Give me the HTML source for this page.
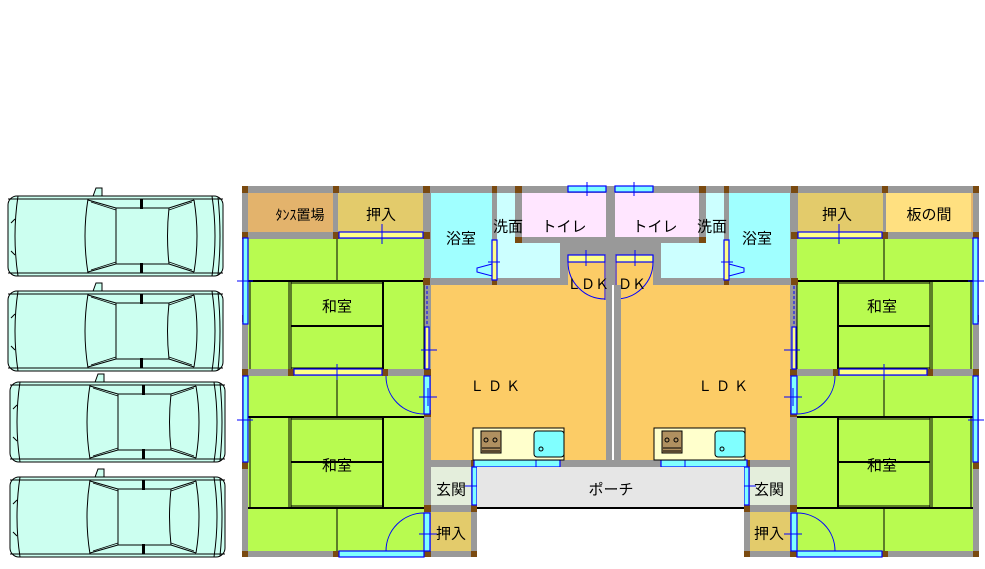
<!DOCTYPE html>
<html><head><meta charset="utf-8"><style>
html,body{margin:0;padding:0;background:#fff;}
svg{display:block;}
text{font-family:"Liberation Sans","Noto Sans CJK JP",sans-serif;font-size:15px;fill:#000;text-anchor:middle;dominant-baseline:central;}
</style></head><body>
<svg width="985" height="569" viewBox="0 0 985 569" xmlns="http://www.w3.org/2000/svg">
<defs>
<g id="car">
  <polygon points="86,4 90,-7 96,-7 96,4" fill="#ccfff0" stroke="#000" stroke-width="1"/>
  <rect x="2" y="1" width="215" height="80" rx="9" fill="#ccfff0" stroke="#000" stroke-width="1"/>
  <path d="M12,1 Q6,41 12,81 M206,1 Q212,41 206,81 M212,2 Q216,41 212,80" fill="none" stroke="#000"/>
  <path d="M2,4 H217 M2,78 H217" stroke="#000" fill="none"/>
  <path d="M82,4 Q76,41 82,78" fill="none" stroke="#000"/>
  <path d="M82,5 L110,13 L110,69 L82,77 M110,13 H163 L188,5 M110,69 H163 L188,77 M163,13 Q160,41 163,69 M188,5 Q194,41 188,77" fill="none" stroke="#000"/>
  <path d="M85,7 L110,15 M85,75 L110,67 M163,15 L186,7 M163,67 L186,75" fill="none" stroke="#000" stroke-width="0.7"/>
  <rect x="134" y="4" width="3" height="10" fill="#000"/>
  <rect x="134" y="68" width="3" height="10" fill="#000"/>
  <path d="M5,28 L9,24 M5,56 L9,60" stroke="#000"/>
</g>
<g id="half">
  <rect x="242" y="186" width="372" height="281" fill="#999"/>
  <rect x="242" y="467" width="235" height="90" fill="#999"/>
  <rect x="248" y="193" width="85" height="39" fill="#e3b36c"/>
  <rect x="338" y="193" width="85" height="39" fill="#e3cb6b"/>
  <rect x="248" y="239" width="176" height="130" fill="#b8fb50"/>
  <rect x="248" y="376" width="176" height="175" fill="#b8fb50"/>
  <rect x="431" y="193" width="61" height="85" fill="#a0ffff"/>
  <rect x="497" y="193" width="18" height="85" fill="#ccffff"/>
  <rect x="497" y="243" width="63" height="35" fill="#ccffff"/>
  <rect x="522" y="193" width="84" height="44" fill="#ffe6ff"/>
  <rect x="568" y="255" width="38" height="45" fill="#fccc66"/>
  <rect x="431" y="285" width="175" height="175" fill="#fccc66"/>
  <rect x="431" y="467" width="40" height="38" fill="#e4eedc"/>
  <rect x="431" y="512" width="40" height="39" fill="#e3cb6b"/>
  <g stroke="#000" fill="none">
    <path d="M337,239 V281" stroke-width="1"/>
    <path d="M248,281 H424" stroke-width="2"/>
    <path d="M250,281 V369 M289,281 V369 M291,281 V369 M424,281 V369"/>
    <path d="M383,281 V369" stroke-width="2"/>
    <path d="M291,283 H383 M291,368 H383"/>
    <path d="M291,326 H383" stroke-width="2"/>
    <path d="M337,376 V417 M337,508 V551"/>
    <path d="M248,417 H424 M248,508 H424" stroke-width="2"/>
    <path d="M250,417 V508 M289,417 V508 M291,417 V508"/>
    <path d="M383,417 V508" stroke-width="2"/>
    <path d="M291,419 H383 M291,506 H383"/>
    <path d="M291,462 H383" stroke-width="2"/>
  </g>
  <g fill="#7a4a10">
    <rect x="242" y="186" width="6" height="7"/><rect x="333" y="186" width="6" height="7"/><rect x="423" y="186" width="7" height="7"/>
    <rect x="242" y="232" width="6" height="7"/><rect x="333" y="232" width="6" height="7"/><rect x="423" y="232" width="7" height="7"/>
    <rect x="492" y="186" width="5" height="7"/><rect x="515" y="186" width="7" height="7"/><rect x="515" y="237" width="7" height="6"/>
    <rect x="423" y="278" width="7" height="7"/><rect x="492" y="278" width="5" height="7"/>
    <rect x="242" y="315" width="6" height="7"/><rect x="242" y="369" width="6" height="7"/><rect x="288" y="369" width="6" height="7"/><rect x="382" y="369" width="6" height="7"/><rect x="424" y="369" width="7" height="7"/>
    <rect x="242" y="462" width="6" height="7"/><rect x="424" y="410" width="7" height="7"/><rect x="471" y="460" width="6" height="7"/>
    <rect x="424" y="505" width="7" height="7"/><rect x="471" y="505" width="6" height="7"/>
    <rect x="242" y="551" width="6" height="6"/><rect x="333" y="551" width="6" height="6"/><rect x="424" y="551" width="7" height="6"/><rect x="471" y="551" width="6" height="6"/>
  </g>
  <g stroke="#00f" stroke-width="1.2">
    <rect x="243" y="238" width="5" height="86" fill="#80ffff"/>
    <rect x="243" y="376" width="5" height="86" fill="#80ffff"/>
    <rect x="339" y="232" width="84" height="6" fill="#ffff88"/>
    <rect x="294" y="369" width="88" height="6" fill="#ffff88"/>
    <rect x="339" y="551" width="85" height="6" fill="#80ffff"/>
    <rect x="568" y="186" width="38" height="6" fill="#80ffff"/>
    <rect x="492" y="240" width="5" height="40" fill="#ffff88"/>
    <rect x="568" y="255" width="37" height="7" fill="#ffff88"/>
    <rect x="474" y="460" width="86" height="7" fill="#80ffff"/>
    <rect x="472" y="467" width="5" height="38" fill="#80ffff"/>
    <rect x="424" y="376" width="6" height="38" fill="#80ffff"/>
    <rect x="424" y="513" width="6" height="38" fill="#80ffff"/>
    <rect x="425" y="327" width="4" height="42" fill="#ffff88"/>
  </g>
  <path d="M427,286 V326" stroke="#00f" stroke-dasharray="3,2"/>
  <g stroke="#00f" fill="none" stroke-width="1">
    <path d="M386,376 A38,38 0 0 0 424,414"/>
    <path d="M386,551 A38,38 0 0 1 424,513"/>
    <path d="M477,505 A37,38 0 0 0 514,467"/>
    <path d="M568,262 A37,37 0 0 0 605,299"/>
    <path d="M605,262 V300"/>
    <polygon points="492,264 477,268 477,272 492,276" />
    <path d="M419,397 H437 M428,388 V406 M419,534 H437 M465,486 H483 M587,182 V196 M382,224 V244 M337,364 V380 M421,350 H437 M237,281 H253 M237,420 H253 M488,262 H500 M586,250 V266 M536,455 V472"/>
  </g>
  <rect x="477" y="467" width="137" height="40" fill="#e6e6e6"/>
  <rect x="477" y="507" width="137" height="2" fill="#000"/>
</g>
</defs>

<use href="#car" x="6" y="195"/>
<use href="#car" x="6" y="290"/>
<use href="#car" x="8" y="381"/>
<use href="#car" x="8" y="476"/>

<use href="#half"/>
<use href="#half" transform="matrix(-1 0 0 1 1221 0)"/>
<rect x="606" y="285" width="15" height="175" fill="#999"/>
<rect x="612" y="285" width="2" height="175" fill="#fff"/>
<rect x="886" y="193" width="85" height="39" fill="#ffe080"/>

<g>
  <rect x="473" y="428" width="91" height="32" fill="#ffffcc" stroke="#000"/>
  <rect x="481" y="431" width="20" height="22" fill="#b09060" stroke="#000"/>
  <path d="M482,448 H500 M482,451 H500" stroke="#000"/>
  <circle cx="486" cy="440" r="2" fill="none" stroke="#000"/><circle cx="495" cy="440" r="2" fill="none" stroke="#000"/>
  <rect x="534" y="431" width="30" height="26" rx="3" fill="#80ffff" stroke="#000"/>
  <circle cx="541" cy="449" r="2" fill="none" stroke="#000"/>
</g>
<g transform="translate(181,0)">
  <rect x="473" y="428" width="91" height="32" fill="#ffffcc" stroke="#000"/>
  <rect x="481" y="431" width="20" height="22" fill="#b09060" stroke="#000"/>
  <path d="M482,448 H500 M482,451 H500" stroke="#000"/>
  <circle cx="486" cy="440" r="2" fill="none" stroke="#000"/><circle cx="495" cy="440" r="2" fill="none" stroke="#000"/>
  <rect x="534" y="431" width="30" height="26" rx="3" fill="#80ffff" stroke="#000"/>
  <circle cx="541" cy="449" r="2" fill="none" stroke="#000"/>
</g>

<text x="300" y="215" style="font-size:14px">ﾀﾝｽ置場</text>
<text x="381" y="215">押入</text>
<text x="461" y="239">浴室</text>
<text x="508" y="227">洗面</text>
<text x="564" y="227">トイレ</text>
<text x="588" y="284" style="font-size:14px">ＬＤＫ</text>
<text x="632" y="284" style="font-size:14px">ＤＫ</text>
<text x="337" y="307">和室</text>
<text x="337" y="466">和室</text>
<text x="497" y="386" style="font-size:14px;letter-spacing:4px">ＬＤＫ</text>
<text x="451" y="490">玄関</text>
<text x="451" y="534">押入</text>
<text x="611" y="490">ポーチ</text>
<text x="837" y="215">押入</text>
<text x="929" y="215">板の間</text>
<text x="757" y="239">浴室</text>
<text x="712" y="227">洗面</text>
<text x="655" y="227">トイレ</text>
<text x="725" y="386" style="font-size:14px;letter-spacing:4px">ＬＤＫ</text>
<text x="882" y="307">和室</text>
<text x="882" y="466">和室</text>
<text x="769" y="490">玄関</text>
<text x="769" y="534">押入</text>
</svg>
</body></html>
